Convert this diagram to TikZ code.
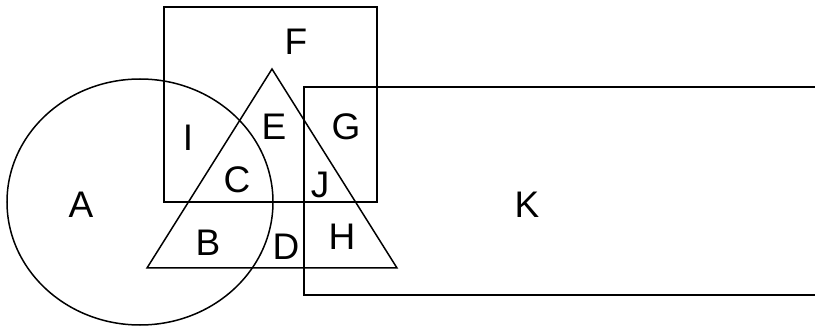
\documentclass[tikz,border=0pt]{standalone}
\usepackage{fontspec}
\setmainfont{Liberation Sans}
\begin{document}
\begin{tikzpicture}[x=1pt,y=-1pt,line width=1.5pt,
  region/.style={font=\fontsize{37}{40}\selectfont,inner sep=0pt}]
  \useasboundingbox (0,0) rectangle (815,326);

  \draw (164,7) rectangle (377,202);
  \draw (140,202) ellipse [x radius=133pt, y radius=123pt];
  \draw (272,69) -- (397,268) -- (147,268) -- cycle;
  \draw (816,87) -- (304,87) -- (304,295) -- (816,295);

  \node[region] (F) at (296,42) {F};
  \node[region] (I) at (188,138) {I};
  \node[region] (E) at (274,127) {E};
  \node[region] (G) at (346,127) {G};
  \node[region] (C) at (237,180) {C};
  \node[region] (J) at (320,185) {J};
  \node[region] (A) at (81,205) {A};
  \node[region] (B) at (208,243) {B};
  \node[region] (D) at (286,247) {D};
  \node[region] (H) at (342,237) {H};
  \node[region] (K) at (527,205) {K};

\end{tikzpicture}
\end{document}
